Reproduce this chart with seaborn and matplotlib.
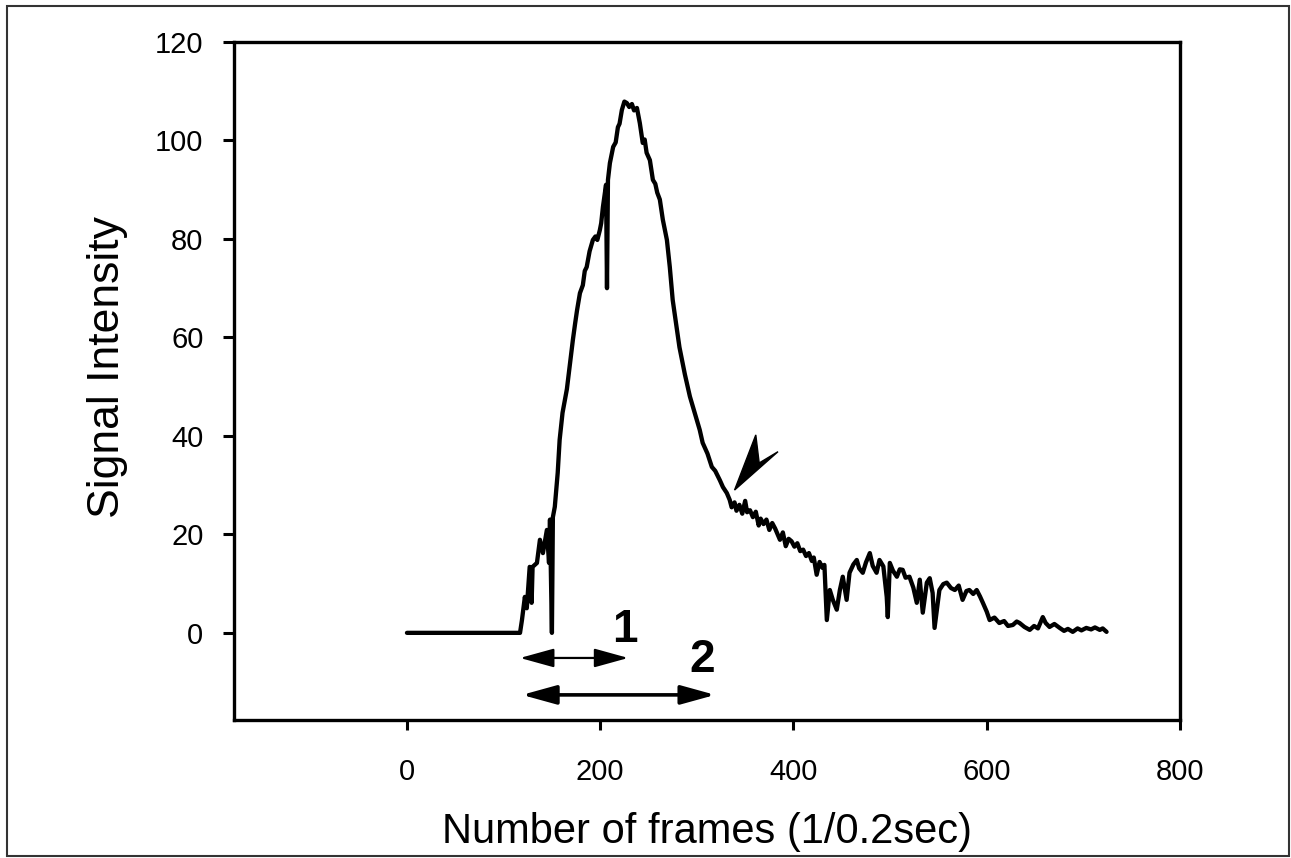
import pandas as pd
import seaborn as sns
import matplotlib.pyplot as plt
from matplotlib.patches import Polygon, Rectangle

# trace (frame number, signal intensity)
frames = [0, 115, 117, 119, 122, 124, 127, 129, 130, 134.5, 137.6, 140.7, 144.8, 147, 148, 150, 151, 153, 156, 158, 161,
          165.5, 168, 171.7, 174, 176, 179, 182, 184, 186, 189, 192.4, 195, 197, 199.6, 201, 202.8, 206, 207, 208, 210,
          213.4, 216, 218.3, 220, 222.4, 225, 227.6, 230, 232.8, 235, 238, 241, 244, 246, 248,
          251.4, 254.5, 257, 259, 261.7, 264.8, 269, 272, 275, 279, 282, 287.6,
          292.8, 296, 300, 303, 306, 311, 315.5, 319, 323.8, 327, 331,
          334, 336, 339, 341, 344, 347, 350, 352, 355, 358, 361, 364, 366, 369, 372, 375, 378, 381, 384, 386, 389,
          392, 395, 398, 401, 404, 407, 410, 413, 416, 419, 421, 424, 427, 430, 432,
          434.5, 437.6, 440.7, 444.8, 448, 451, 455, 458, 462, 465.5, 468, 471.7, 475, 479, 482, 486, 489, 493,
          496.5, 497.6, 499.7, 503, 507, 510, 513, 516, 520, 524, 527.6, 530.7, 533.8, 538, 541, 544, 546, 551,
          555, 558.6, 563, 567, 571, 575, 579, 582, 586, 589.6, 593, 596, 600, 603, 608, 613, 618, 622, 627,
          631, 634, 639, 644.5, 649, 653, 658, 661, 665, 670, 675.5, 680, 684, 689, 694, 698, 703, 708, 712, 717,
          720, 724]
intensity = [0, 0, 0, 2.6, 7.3, 5.0, 13.4, 6.1, 13.4, 14.2, 18.9, 16.2, 20.9, 14.2, 23.0, 0.0, 23.5, 25.6, 32.5, 39.2, 44.7,
             49.5, 53.5, 59.5, 62.8, 65.5, 69, 70.6, 73.5, 74.3, 77.5, 79.8, 80.5, 79.8, 81.8, 83.2, 86.5, 91, 70, 92, 95.4,
             98.7, 99.6, 102.7, 103.4, 106.2, 107.9, 107.6, 106.8, 107.4, 106.1, 106.6, 103.5, 99.5, 100.2, 97.5,
             96, 92, 91.2, 89.4, 88, 83.9, 79.8, 74.3, 67.6, 62.1, 58, 52.5,
             48, 45.9, 43.2, 41.2, 38.6, 36.4, 33.7, 32.9, 31, 29.6, 28.4,
             27, 25.5, 26.5, 24.8, 26, 24.2, 26.8, 24.5, 24.9, 23.5, 24.6, 21.8, 23.2, 22.1, 23, 20.9, 22.3, 21.2, 19.8, 18.9, 20.4,
             17.6, 19.1, 18.6, 17.5, 18.2, 16.6, 16.9, 15.6, 16.2, 14.6, 15.3, 11.8, 14.4, 13.2, 13.8,
             2.6, 8.7, 6.7, 4.7, 8.7, 11.4, 6.7, 12.2, 13.9, 14.8, 13.1, 12.2, 14.3, 16.2, 13.6, 12.2, 14.8, 13.5,
             7.3, 3.2, 14.2, 12.6, 11.4, 12.9, 12.8, 11.2, 11.4, 9.2, 6.1, 10.8, 4.1, 10.2, 11.1, 8.1, 1.0, 8.7,
             9.9, 10.2, 9.1, 8.7, 9.6, 6.7, 8.5, 8.7, 7.9, 8.7, 7.4, 6.1, 4.3, 2.6, 3.1, 2.0, 2.4, 1.4, 1.6,
             2.3, 2.0, 1.2, 0.6, 1.4, 0.9, 3.2, 2.0, 1.2, 1.8, 1.0, 0.4, 0.8, 0.2, 0.9, 0.5, 1.0, 0.7, 1.1, 0.6,
             0.9, 0.2]

x_ticks = [0, 200, 400, 600, 800]
y_ticks = [0, 20, 40, 60, 80, 100, 120]

# double arrows under the curve: (start, end, y, label, label x, label y, shaft width)
ranges = [(117, 229, -5.1, "1", 226, 0.6, 1.6),
          (119, 319, -12.6, "2", 306, -5.5, 2.6)]
arrowhead = [(339, 29.0), (361, 40.2), (364.5, 34.5), (384, 36.8)]

df = pd.DataFrame({"frame": frames, "signal": intensity})

sns.set_style("ticks")
plt.rcParams["font.family"] = ["Liberation Sans", "DejaVu Sans"]
plt.rcParams["text.color"] = "black"
plt.rcParams["axes.labelcolor"] = "black"
plt.rcParams["xtick.color"] = "black"
plt.rcParams["ytick.color"] = "black"

fig = plt.figure(figsize=(12.91, 8.58), dpi=100)
ax = fig.add_axes([234 / 1291, 1 - 720 / 858, (1180 - 234) / 1291, (720 - 42) / 858])

sns.lineplot(data=df, x="frame", y="signal", ax=ax, color="black", linewidth=3.1,
             estimator=None, sort=False)

ax.set_xlim(-179, 800)
ax.set_ylim(-17.7, 120)
ax.set_xticks(x_ticks)
ax.set_yticks(y_ticks)
ax.set_xticklabels([str(t) for t in x_ticks], fontsize=21)
ax.set_yticklabels([str(t) for t in y_ticks], fontsize=21)
ax.tick_params(axis="x", direction="out", length=7.5, width=2.2, pad=20)
ax.tick_params(axis="y", direction="out", length=8, width=2.2, pad=14)
for s in ax.spines.values():
    s.set_linewidth(2.4)
    s.set_color("black")

ax.set_xlabel("Number of frames (1/0.2sec)", fontsize=30)
ax.xaxis.set_label_coords(0.5, -0.135)
ax.set_ylabel("Signal Intensity", fontsize=32)
ax.yaxis.set_label_coords(-0.112, 0.52)

for x0, x1, y, lab, lx, ly, w in ranges:
    ax.annotate("", xy=(x1, y), xytext=(x0, y),
                arrowprops=dict(arrowstyle="<|-|>,head_length=21,head_width=5.8", mutation_scale=1,
                                color="black", lw=w, shrinkA=0, shrinkB=0))
    ax.text(lx, ly, lab, fontsize=33, fontweight="bold", ha="center", va="center")

ax.add_patch(Polygon(arrowhead, closed=True, facecolor="black", edgecolor="black", linewidth=1))

fig.patches.append(Rectangle((7 / 1291, 2 / 858), 1282 / 1291, 850 / 858, transform=fig.transFigure,
                             fill=False, edgecolor="#333333", linewidth=1.5))

fig.savefig("out.png", dpi=100)
